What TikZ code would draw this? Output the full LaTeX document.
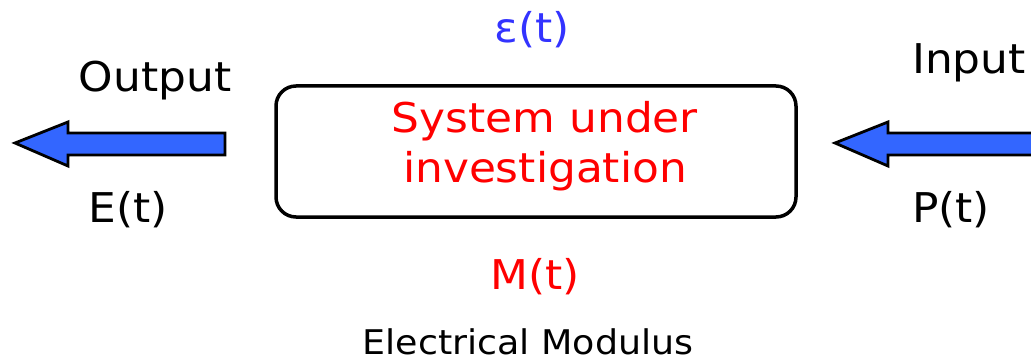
\documentclass[tikz,border=0pt]{standalone}
\usepackage{fontspec}
\setmainfont{DejaVu Sans}[FakeStretch=1.07]
\definecolor{arrowblue}{HTML}{3366FF}
\definecolor{epsblue}{HTML}{3333FF}
\begin{document}
\begin{tikzpicture}[x=1pt,y=-1pt,
  lbl/.style={inner sep=0pt,font=\fontsize{41}{50}\selectfont},
  small/.style={inner sep=0pt,font=\fontsize{34}{40}\selectfont},
  fatarrow/.style={fill=arrowblue,draw=black,line width=2.8pt,line join=miter}]
\useasboundingbox (0,0) rectangle (1031,361);
% system box
\node[draw=black,line width=3.5pt,rounded corners=20pt,minimum width=520pt,minimum height=131pt] (sys) at (536,151.5) {};
\node[lbl,text=red,align=center] (systxt) at (545,146) {System under\\investigation};
% left arrow (output)
\coordinate (ltip) at (15,143);
\draw[fatarrow] (ltip) -- (68,122) -- (68,133) -- (225,133) -- (225,155) -- (68,155) -- (68,166) -- cycle;
% right arrow (input)
\coordinate (rtip) at (835,143);
\draw[fatarrow] (rtip) -- (888,122) -- (888,133) -- (1040,133) -- (1040,155) -- (888,155) -- (888,166) -- cycle;
% labels
\node[lbl] (out) at (155,81) {Output};
\node[lbl] (Et) at (128,210) {E(t)};
\node[lbl,anchor=west] (in) at (912,63) {Input};
\node[lbl,anchor=west] (Pt) at (912,210) {P(t)};
\node[lbl,text=epsblue] (eps) at (532,30) {ε(t)};
\node[lbl,text=red] (Mt) at (535,277) {M(t)};
\node[small] (em) at (528,342) {Electrical Modulus};
\end{tikzpicture}
\end{document}
